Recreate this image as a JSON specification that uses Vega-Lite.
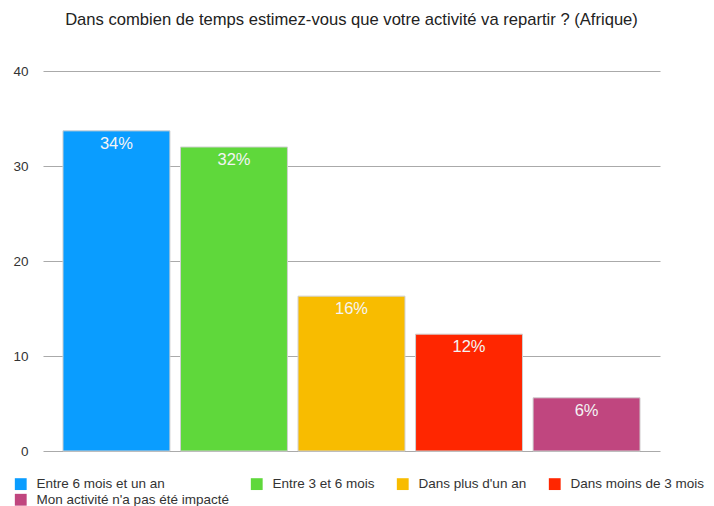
{
  "$schema": "https://vega.github.io/schema/vega-lite/v6.json",
  "autosize": "none",
  "width": 617,
  "height": 380,
  "padding": {"left": 43, "top": 71, "right": 54, "bottom": 55},
  "background": "white",
  "title": {
    "text": "Dans combien de temps estimez-vous que votre activité va repartir ? (Afrique)",
    "font": "Liberation Sans",
    "fontSize": 16.6,
    "fontWeight": "normal",
    "color": "#222222",
    "anchor": "middle",
    "offset": 35
  },
  "data": {
    "values": [
      {"cat": "Entre 6 mois et un an", "value": 33.7, "label": "34%"},
      {"cat": "Entre 3 et 6 mois", "value": 32.0, "label": "32%"},
      {"cat": "Dans plus d'un an", "value": 16.3, "label": "16%"},
      {"cat": "Dans moins de 3 mois", "value": 12.3, "label": "12%"},
      {"cat": "Mon activité n'a pas été impacté", "value": 5.6, "label": "6%"}
    ]
  },
  "config": {
    "view": {"stroke": null},
    "font": "Liberation Sans"
  },
  "encoding": {
    "x": {
      "field": "cat",
      "type": "nominal",
      "sort": null,
      "scale": {"paddingInner": 0.09, "paddingOuter": 0.17},
      "axis": null
    }
  },
  "layer": [
    {
      "mark": {"type": "bar", "stroke": "#d0d0d0", "strokeWidth": 1},
      "encoding": {
        "y": {
          "field": "value",
          "type": "quantitative",
          "scale": {"domain": [0, 40]},
          "axis": {
            "values": [0, 10, 20, 30, 40],
            "title": null,
            "domain": false,
            "ticks": false,
            "labelPadding": 15,
            "labelFontSize": 13.5,
            "labelColor": "#333333",
            "gridColor": "#aaaaaa",
            "gridWidth": 1.2
          }
        },
        "color": {
          "field": "cat",
          "type": "nominal",
          "sort": null,
          "scale": {
            "domain": ["Entre 6 mois et un an", "Entre 3 et 6 mois", "Dans plus d'un an", "Dans moins de 3 mois", "Mon activité n'a pas été impacté"],
            "range": ["#0a9dff", "#5fd83b", "#f8bc00", "#ff2600", "#c0467f"]
          },
          "legend": {
            "title": null,
            "orient": "none",
            "legendX": -29,
            "legendY": 406,
            "direction": "horizontal",
            "columns": 4,
            "columnPadding": 21,
            "rowPadding": 1,
            "symbolType": "square",
            "symbolSize": 140,
            "symbolStrokeWidth": 0,
            "labelFontSize": 13.5,
            "labelLimit": 400,
            "labelColor": "#333333",
            "labelOffset": 9
          }
        }
      }
    },
    {
      "mark": {"type": "text", "baseline": "top", "dy": 5, "color": "#f4f4f4", "fontSize": 16.5},
      "encoding": {
        "y": {"field": "value", "type": "quantitative"},
        "text": {"field": "label"}
      }
    },
    {
      "mark": {"type": "rule", "color": "#333333", "strokeWidth": 1.2},
      "encoding": {"y": {"datum": 0}}
    }
  ]
}
